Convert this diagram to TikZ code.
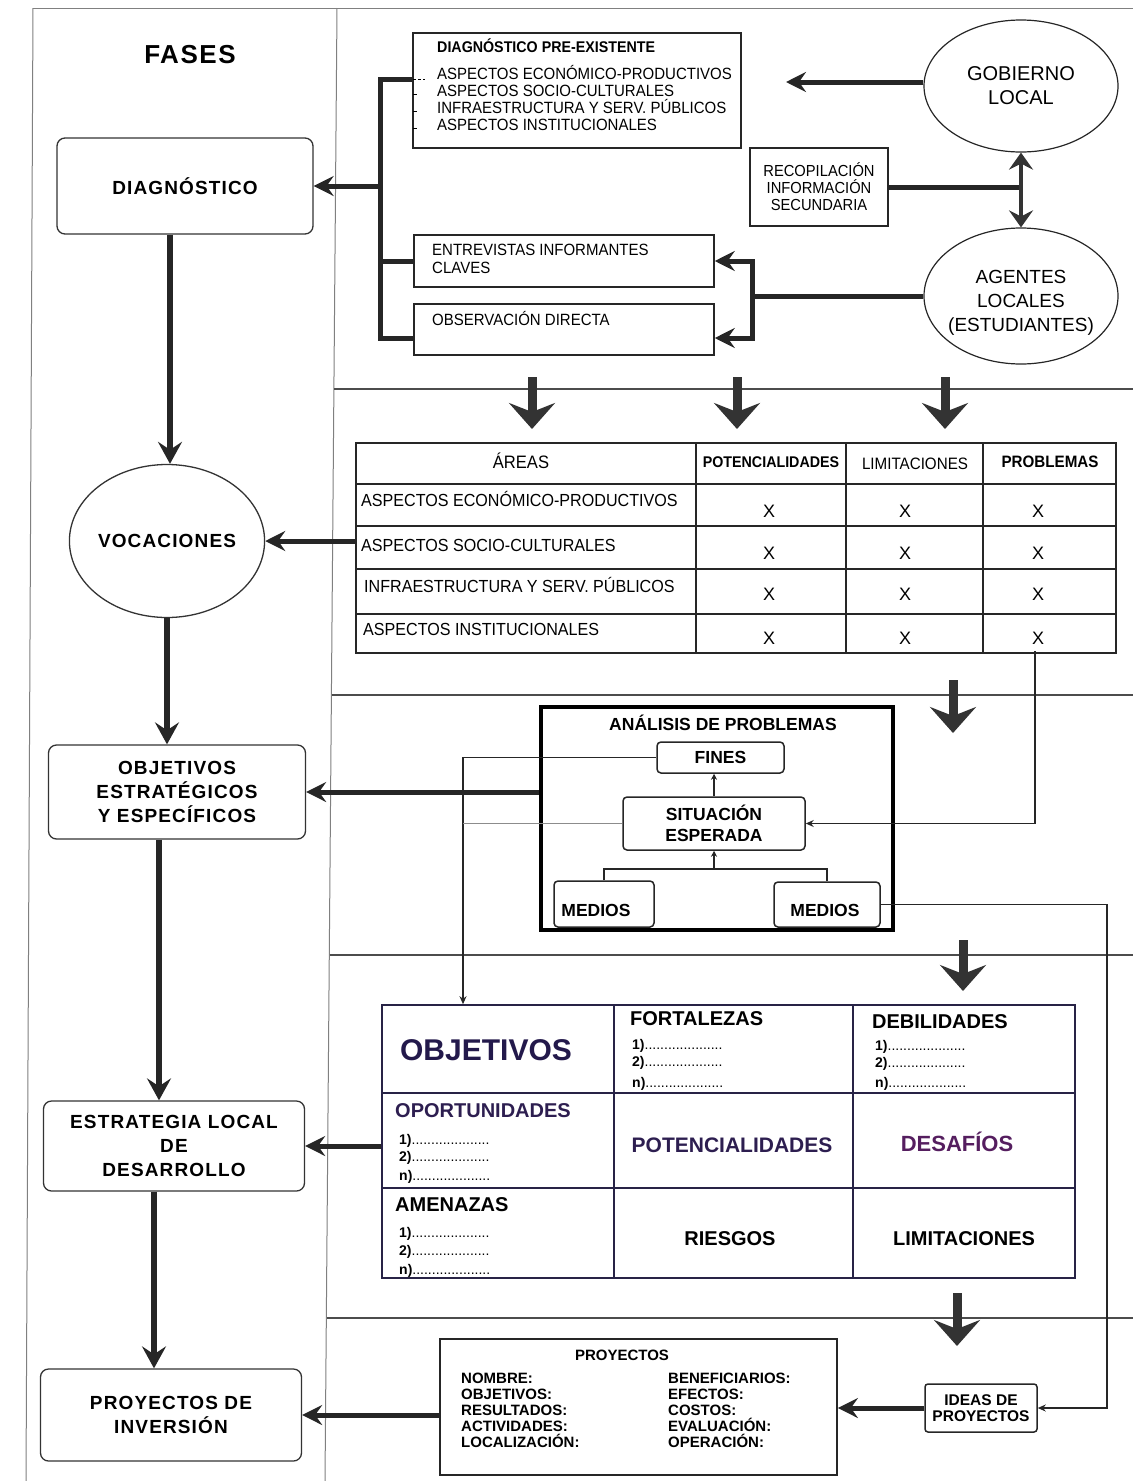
\documentclass[tikz,border=0pt]{standalone}
\usepackage{fontspec}
\setmainfont{Liberation Sans}
\newfontfamily\nf[FakeStretch=0.92]{Liberation Sans}
\newfontfamily\wf[LetterSpace=6]{Liberation Sans}
\usetikzlibrary{arrows.meta,shapes.geometric,calc}
\definecolor{objc}{RGB}{35,25,75}
\definecolor{potc}{RGB}{45,30,80}
\definecolor{desc}{RGB}{85,30,95}
\definecolor{gridc}{RGB}{40,35,70}
\newcommand{\ditem}[1]{\textbf{#1}....................}
\tikzset{
  frame/.style={line width=1pt, draw=black!50},
  sep/.style={line width=1.5pt, draw=black!70},
  lbox/.style={draw=black!80, line width=1.3pt, rounded corners=8pt, align=center, inner sep=0pt,
    font=\wf\bfseries\fontsize{19}{24}\selectfont},
  rbox/.style={draw=black!85, line width=1.5pt, inner sep=0pt},
  rboxr/.style={draw=black!85, line width=1.5pt, inner sep=0pt, rounded corners=4pt},
  bigv/.style={line width=5.5pt, draw=black!85, -{Stealth[length=22pt,width=24pt,inset=8pt]}},
  bigh/.style={line width=5pt, draw=black!85, -{Stealth[length=20pt,width=20pt,inset=7pt]}},
  bigboth/.style={line width=5pt, draw=black!85, {Stealth[length=20pt,width=20pt,inset=7pt]}-{Stealth[length=20pt,width=20pt,inset=7pt]}},
  dblarr/.style={line width=3.5pt, draw=black!80, {Stealth[length=17pt,width=24pt,inset=6pt]}-{Stealth[length=17pt,width=24pt,inset=6pt]}},
  thickln/.style={line width=5pt, draw=black!85},
  blockarr/.style={line width=9pt, draw=black!80, -{Stealth[length=26pt,width=46pt,inset=9pt]}},
  thinarr/.style={line width=1.2pt, draw=black!85, -{Stealth[length=8pt,width=7pt]}},
  medln/.style={line width=2.5pt, draw=black!85},
  smallarr/.style={line width=2pt, draw=black!85, -{Stealth[length=6pt,width=6pt]}},
  ntxt/.style={font=\nf\fontsize{16.3}{18}\selectfont, inner sep=0pt},
  ttxt/.style={font=\nf\fontsize{17.5}{20}\selectfont, inner sep=0pt},
  xtxt/.style={font=\fontsize{18}{20}\selectfont, inner sep=0pt},
  ftit/.style={font=\bfseries\fontsize{20}{22}\selectfont, inner sep=0pt},
  fdot/.style={font=\fontsize{14}{16}\selectfont, inner sep=0pt},
  ptxt/.style={font=\bfseries\fontsize{15}{17}\selectfont, inner sep=0pt},
}
\begin{document}
\begin{tikzpicture}[x=1pt,y=-1pt]
\useasboundingbox (0,0) rectangle (1133,1481);
% frame lines
\draw[frame] (33,8) -- (1133,8);
\draw[frame] (33,8) -- (26,1481);
\draw[frame] (337,8) -- (325,1481);
\foreach \yy/\xx in {389/334, 695/331.5, 955/329.5, 1318/326.5}
  \draw[sep] (\xx,\yy) -- (1133,\yy);

% ---------- left column ----------
\node[font=\wf\bfseries\fontsize{26}{30}\selectfont, inner sep=0pt] (fases) at (190,55) {FASES};
\node[lbox, minimum width=256pt, minimum height=96pt] (diag) at (185,186) {DIAGNÓSTICO};
\node[draw=black!80, line width=1.3pt, ellipse, minimum width=180pt, minimum height=153pt, inner sep=0pt,
  font=\wf\bfseries\fontsize{19}{24}\selectfont] (voc) at (167,541) {VOCACIONES};
\node[lbox, minimum width=257pt, minimum height=94pt] (obj) at (177,792) {OBJETIVOS\\ESTRATÉGICOS\\Y ESPECÍFICOS};
\node[lbox, minimum width=261pt, minimum height=90pt] (est) at (174,1146) {ESTRATEGIA LOCAL\\DE\\DESARROLLO};
\node[lbox, minimum width=261pt, minimum height=92pt] (pinv) at (171,1415) {PROYECTOS DE\\INVERSIÓN};

\draw[bigv] ([xshift=-15pt]diag.south) -- ([xshift=-15pt]diag.south |- voc.north);
\draw[bigv] (voc.south) -- (voc.south |- obj.north);
\draw[bigv] ([xshift=-18pt]obj.south) -- ([xshift=-18pt]obj.south |- est.north);
\draw[bigv] ([xshift=-20pt]est.south) -- ([xshift=-20pt]est.south |- pinv.north);

% ---------- diagnostic section ----------
\node[rbox, minimum width=328pt, minimum height=115pt] (pre) at (577,90.5) {};
\node[anchor=mid west, font=\nf\bfseries\fontsize{15.5}{18}\selectfont, inner sep=0pt] (pret) at (437,50) {DIAGNÓSTICO PRE-EXISTENTE};
\node[ntxt, anchor=mid west] (pre1) at (437,77) {ASPECTOS ECONÓMICO-PRODUCTIVOS};
\node[ntxt, anchor=mid west] (pre2) at (437,94) {ASPECTOS SOCIO-CULTURALES};
\node[ntxt, anchor=mid west] (pre3) at (437,111) {INFRAESTRUCTURA Y SERV. PÚBLICOS};
\node[ntxt, anchor=mid west] (pre4) at (437,128) {ASPECTOS INSTITUCIONALES};
\foreach \ty in {94,111,128} \draw[line width=0.8pt] (413,\ty) -- (417,\ty);
\draw[line width=0.8pt, dash pattern=on 3pt off 2pt] (413,79) -- (425,79);

\node[draw=black!85, line width=1.2pt, ellipse, minimum width=194pt, minimum height=132pt, inner sep=0pt,
  align=center, font=\fontsize{20}{24}\selectfont] (gob) at (1021,86) {GOBIERNO\\LOCAL};
\node[rbox, minimum width=138pt, minimum height=78pt, align=center, font=\nf\fontsize{16}{17}\selectfont] (rec) at (819,187) {RECOPILACIÓN\\INFORMACIÓN\\SECUNDARIA};
\node[draw=black!85, line width=1.2pt, ellipse, minimum width=194pt, minimum height=136pt, inner sep=0pt] (age) at (1021,296) {};
\node[align=center, font=\fontsize{19}{24}\selectfont, inner sep=0pt] (aget) at (1021,303) {AGENTES\\LOCALES\\(ESTUDIANTES)};
\node[rbox, minimum width=300pt, minimum height=52pt] (ent) at (564,261) {};
\node[ntxt, anchor=west, align=left] (entt) at (432,259) {ENTREVISTAS INFORMANTES\\CLAVES};
\node[rbox, minimum width=300pt, minimum height=51pt] (obs) at (564,329.5) {};
\node[ntxt, anchor=mid west] (obst) at (432,323) {OBSERVACIÓN DIRECTA};

\coordinate (bk) at (380,79);
\coordinate (bk2) at (380,338);
\draw[thickln] (pre.west |- bk) -- (bk) -- (bk2) -- (obs.west |- bk2);
\draw[thickln] (bk |- ent.west) -- (ent.west);
\draw[bigh] (bk |- diag.east) -- (diag.east);

\coordinate (gtip) at (786,82);
\draw[bigh] (gob.west |- gtip) -- (gtip);
\draw[thickln] (rec.east) -- (rec.east -| gob.south);
\draw[dblarr] (gob.south) -- (age.north);

\coordinate (av) at (752,297);
\draw[thickln] (age.west) -- (age.west -| av);
\draw[bigboth] (ent.east) -- (av |- ent.east) -- (av |- bk2) -- (obs.east |- bk2);

% ---------- table section ----------
\coordinate (d1a) at (532,377); \coordinate (d1b) at (532,429);
\coordinate (d2a) at (737,377); \coordinate (d2b) at (737,429);
\coordinate (d3a) at (945,377); \coordinate (d3b) at (945,429);
\draw[blockarr] (d1a) -- (d1b);
\draw[blockarr] (d2a) -- (d2b);
\draw[blockarr] (d3a) -- (d3b);

\node[draw=black!85, line width=1.5pt, minimum width=760pt, minimum height=210pt, inner sep=0pt] (tab) at (736,548) {};
\foreach \gx in {696,846,983} \draw[line width=1.4pt, black!85] (\gx,443) -- (\gx,653);
\foreach \gy in {484,526,569,614} \draw[line width=1.4pt, black!85] (356,\gy) -- (1116,\gy);
\node[font=\nf\fontsize{18}{20}\selectfont, inner sep=0pt, anchor=mid] (th1) at (521,466) {ÁREAS};
\node[font=\nf\bfseries\fontsize{15.5}{18}\selectfont, inner sep=0pt, anchor=mid] (th2) at (771,465) {POTENCIALIDADES};
\node[font=\nf\fontsize{16.5}{18}\selectfont, inner sep=0pt, anchor=mid] (th3) at (915,467) {LIMITACIONES};
\node[font=\nf\bfseries\fontsize{16.5}{18}\selectfont, inner sep=0pt, anchor=mid] (th4) at (1050,465) {PROBLEMAS};
\node[ttxt, anchor=mid west] (tr1) at (361,504) {ASPECTOS ECONÓMICO-PRODUCTIVOS};
\node[ttxt, anchor=mid west] (tr2) at (361,549) {ASPECTOS SOCIO-CULTURALES};
\node[ttxt, anchor=mid west] (tr3) at (364,590) {INFRAESTRUCTURA Y SERV. PÚBLICOS};
\node[ttxt, anchor=mid west] (tr4) at (363,633) {ASPECTOS INSTITUCIONALES};
\foreach \ry [count=\ri] in {515,557,598,642} {
  \node[xtxt, anchor=mid] (xa\ri) at (769,\ry) {X};
  \node[xtxt, anchor=mid] (xb\ri) at (905,\ry) {X};
  \node[xtxt, anchor=mid] (xc\ri) at (1038,\ry) {X};
}
\draw[bigh] (voc.east -| tab.west) -- (voc.east);

% ---------- problem analysis ----------
\coordinate (d4a) at (953,680); \coordinate (d4b) at (953,733);
\draw[blockarr] (d4a) -- (d4b);
\node[draw=black, line width=4pt, minimum width=352pt, minimum height=223pt, inner sep=0pt] (anal) at (717,818.5) {};
\node[font=\bfseries\fontsize{17.5}{20}\selectfont, inner sep=0pt] (analt) at (723,723) {ANÁLISIS DE PROBLEMAS};
\node[rboxr, minimum width=127pt, minimum height=31pt, font=\bfseries\fontsize{17.5}{20}\selectfont] (fines) at (720.5,757.5) {FINES};
\node[rboxr, minimum width=182pt, minimum height=53pt, align=center, font=\bfseries\fontsize{17.5}{21}\selectfont] (sit) at (714,823.5) {SITUACIÓN\\ESPERADA};
\node[rboxr, minimum width=100pt, minimum height=46pt] (med1) at (604,904) {};
\node[font=\bfseries\fontsize{17.5}{20}\selectfont, inner sep=0pt] (med1t) at (596,910) {MEDIOS};
\node[rboxr, minimum width=106pt, minimum height=45pt] (med2) at (827,904.5) {};
\node[font=\bfseries\fontsize{17.5}{20}\selectfont, inner sep=0pt] (med2t) at (825,910) {MEDIOS};
\coordinate (mj) at (0,869);
\draw[medln] (med1.north) -- (med1.north |- mj) -- (med2.north |- mj) -- (med2.north);
\draw[smallarr] (sit.south |- mj) -- (sit.south);
\draw[smallarr] (sit.north) -- (sit.north |- fines.south);
\draw[bigh] (anal.west |- obj.east) -- (obj.east);

\coordinate (px) at (1035,651);
\draw[thinarr] (px) -- (px |- sit.east) -- (sit.east);

% ---------- FODA ----------
\coordinate (d5a) at (963,940); \coordinate (d5b) at (963,991);
\draw[blockarr] (d5a) -- (d5b);
\node[draw=gridc, line width=1.6pt, minimum width=693pt, minimum height=273pt, inner sep=0pt] (foda) at (728.5,1141.5) {};
\foreach \gx in {614,853} \draw[line width=1.5pt, gridc] (\gx,1005) -- (\gx,1278);
\foreach \gy in {1093,1188} \draw[line width=1.5pt, gridc] (382,\gy) -- (1075,\gy);

\coordinate (fv) at (463,752);
\draw[thinarr] (fines.west) -- (fv |- fines.west) -- (fv |- foda.north);
\draw[line width=1.2pt, black!45] (sit.west) -- (fv |- sit.west);

\node[font=\bfseries\fontsize{30}{32}\selectfont, text=objc, inner sep=0pt] (fobj) at (486,1050) {OBJETIVOS};
\node[ftit, anchor=mid west] (ffor) at (630,1023) {FORTALEZAS};
\node[fdot, anchor=mid west] (ffor1) at (632,1047) {\ditem{1)}};
\node[fdot, anchor=mid west] (ffor2) at (632,1064) {\ditem{2)}};
\node[fdot, anchor=mid west] (ffor3) at (632,1085) {\ditem{n)}};
\node[ftit, anchor=mid west] (fdeb) at (872,1026) {DEBILIDADES};
\node[fdot, anchor=mid west] (fdeb1) at (875,1048) {\ditem{1)}};
\node[fdot, anchor=mid west] (fdeb2) at (875,1065) {\ditem{2)}};
\node[fdot, anchor=mid west] (fdeb3) at (875,1085) {\ditem{n)}};
\node[ftit, anchor=mid west, text=potc] (fopo) at (395,1115) {OPORTUNIDADES};
\node[fdot, anchor=mid west] (fopo1) at (399,1142) {\ditem{1)}};
\node[fdot, anchor=mid west] (fopo2) at (399,1159) {\ditem{2)}};
\node[fdot, anchor=mid west] (fopo3) at (399,1178) {\ditem{n)}};
\node[font=\bfseries\fontsize{21}{24}\selectfont, text=potc, inner sep=0pt] (fpot) at (732,1145) {POTENCIALIDADES};
\node[font=\bfseries\fontsize{22}{24}\selectfont, text=desc, inner sep=0pt] (fdes) at (957,1142) {DESAFÍOS};
\node[ftit, anchor=mid west] (fame) at (395,1209) {AMENAZAS};
\node[fdot, anchor=mid west] (fame1) at (399,1235) {\ditem{1)}};
\node[fdot, anchor=mid west] (fame2) at (399,1253) {\ditem{2)}};
\node[fdot, anchor=mid west] (fame3) at (399,1272) {\ditem{n)}};
\node[ftit] (fries) at (730,1239) {RIESGOS};
\node[ftit] (flim) at (964,1239) {LIMITACIONES};
\draw[bigh] (foda.west |- est.east) -- (est.east);

% ---------- projects ----------
\coordinate (d6a) at (957,1293); \coordinate (d6b) at (957,1346);
\draw[blockarr] (d6a) -- (d6b);
\node[draw=black!85, line width=1.8pt, minimum width=397pt, minimum height=136pt, inner sep=0pt] (proy) at (638.5,1407) {};
\node[ptxt] (proyt) at (622,1355) {PROYECTOS};
\foreach \t [count=\i] in {NOMBRE:,OBJETIVOS:,RESULTADOS:,ACTIVIDADES:,LOCALIZACIÓN:}
  \node[ptxt, anchor=mid west] (pl\i) at (461,{1365+16*\i}) {\t};
\foreach \t [count=\i] in {BENEFICIARIOS:,EFECTOS:,COSTOS:,EVALUACIÓN:,OPERACIÓN:}
  \node[ptxt, anchor=mid west] (pr\i) at (668,{1365+16*\i}) {\t};
\node[draw=black!85, line width=1.5pt, rounded corners=3pt, minimum width=112pt, minimum height=48pt, inner sep=0pt,
  align=center, font=\bfseries\fontsize{15.5}{16}\selectfont] (ideas) at (981,1408) {IDEAS DE\\PROYECTOS};
\draw[bigh] (ideas.west) -- (proy.east |- ideas.west);
\draw[bigh] (proy.west |- pinv.east) -- (pinv.east);

\coordinate (rv) at (1107,906);
\draw[thinarr] (med2.east) -- (rv |- med2.east) -- (rv |- ideas.east) -- (ideas.east);
\end{tikzpicture}
\end{document}
